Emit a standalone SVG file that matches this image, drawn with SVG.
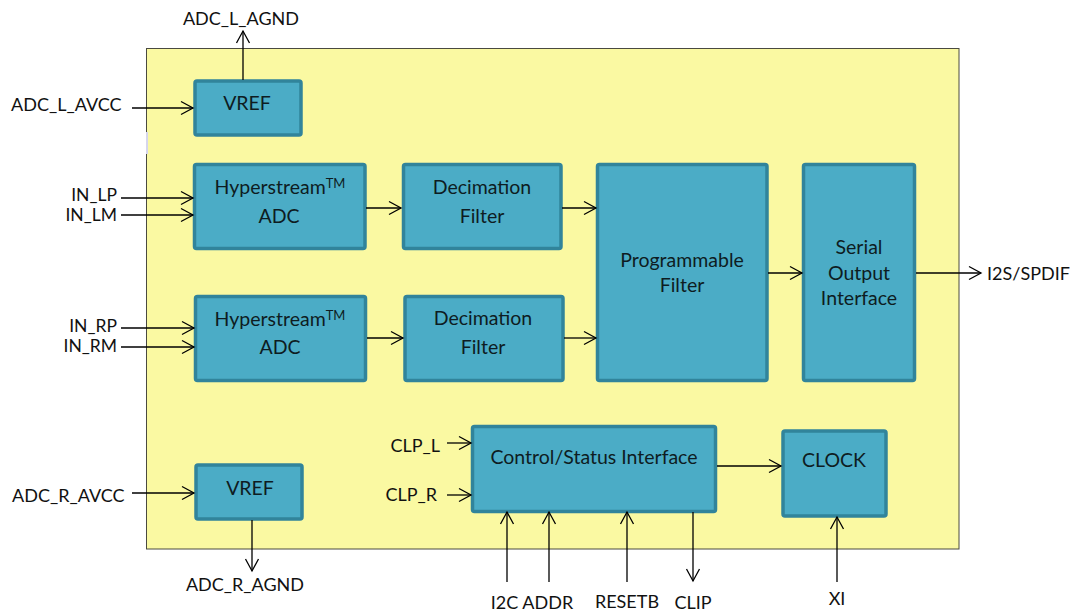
<svg xmlns="http://www.w3.org/2000/svg" width="1072" height="612" viewBox="0 0 1072 612">
<defs>
<style>
text{font-family:Lato,"Open Sans","Liberation Sans",sans-serif;font-size:18px;fill:#111}
.b{font-size:19.5px;fill:#0e1c22}
.c{text-anchor:middle}
.e{text-anchor:end}
.box{fill:#4BACC6;stroke:#31849B;stroke-width:3.5}
.w{stroke:#000;stroke-width:1.3;fill:none}
.tm{font-size:13px}
.s{font-size:17.5px}
</style>
<marker id="a" markerUnits="userSpaceOnUse" markerWidth="14" markerHeight="14" refX="12" refY="6.5" orient="auto" overflow="visible">
<path d="M0,0 L12,6.5 L0,13" fill="none" stroke="#000" stroke-width="1.3"/>
</marker>
</defs>
<rect width="1072" height="612" fill="#fff"/>
<g id="chip">
<rect x="146.5" y="48.5" width="812.5" height="500.5" fill="#FAF9A2" stroke="#4a4a40" stroke-width="1"/>
<rect x="146" y="132" width="2" height="22" fill="#d6d6ec"/>
</g>
<g id="vref-l"><rect class="box" x="195" y="81" width="106" height="54" rx="2"/><text class="c b" x="247" y="110">VREF</text></g>
<g id="adc-l"><rect class="box" x="194.5" y="164.5" width="170.5" height="84" rx="2"/><text class="c b" x="280" y="194">Hyperstream<tspan class="tm" dy="-6">TM</tspan></text><text class="c b" x="279" y="223">ADC</text></g>
<g id="dec-l"><rect class="box" x="403.5" y="164.5" width="157.5" height="84" rx="2"/><text class="c b" x="482" y="194">Decimation</text><text class="c b" x="482" y="223">Filter</text></g>
<g id="adc-r"><rect class="box" x="195.5" y="296.5" width="170" height="84" rx="2"/><text class="c b" x="280" y="326">Hyperstream<tspan class="tm" dy="-6">TM</tspan></text><text class="c b" x="280" y="354">ADC</text></g>
<g id="dec-r"><rect class="box" x="405" y="296.5" width="158" height="84" rx="2"/><text class="c b" x="483" y="325">Decimation</text><text class="c b" x="483" y="354">Filter</text></g>
<g id="prog"><rect class="box" x="597.5" y="164.5" width="169.5" height="216" rx="2"/><text class="c b" x="682" y="267">Programmable</text><text class="c b" x="682" y="292">Filter</text></g>
<g id="serial"><rect class="box" x="803.5" y="164.5" width="111" height="216" rx="2"/><text class="c b" x="859" y="254">Serial</text><text class="c b" x="859" y="280">Output</text><text class="c b" x="859" y="305">Interface</text></g>
<g id="ctrl"><rect class="box" x="472.5" y="426.5" width="243" height="85" rx="2"/><text class="c b" x="594" y="464">Control/Status Interface</text></g>
<g id="clock"><rect class="box" x="783" y="431" width="103" height="85" rx="2"/><text class="c b" x="834" y="467">CLOCK</text></g>
<g id="vref-r"><rect class="box" x="196" y="465" width="106" height="54" rx="2"/><text class="c b" x="250" y="495">VREF</text></g>
<g id="labels">
<text class="c" x="241" y="25">ADC_L_AGND</text>
<text x="11" y="111">ADC_L_AVCC</text>
<text class="e s" x="117" y="201">IN_LP</text>
<text class="e s" x="117" y="221">IN_LM</text>
<text class="e s" x="117" y="332">IN_RP</text>
<text class="e s" x="117" y="352">IN_RM</text>
<text x="12" y="502">ADC_R_AVCC</text>
<text class="c" x="245" y="591">ADC_R_AGND</text>
<text class="e" x="440" y="452">CLP_L</text>
<text class="e" x="437" y="501">CLP_R</text>
<text class="c" x="532" y="609">I2C ADDR</text>
<text class="c" x="627" y="608">RESETB</text>
<text class="c" x="693" y="609">CLIP</text>
<text class="c" x="837" y="605">XI</text>
<text x="987" y="280">I2S/SPDIF</text>
</g>
<g id="connectors" class="w" marker-end="url(#a)">
<line x1="243" y1="80" x2="243" y2="31"/>
<line x1="132" y1="108" x2="193" y2="108"/>
<line x1="121" y1="198" x2="193" y2="198"/>
<line x1="121" y1="215" x2="193" y2="215"/>
<line x1="121" y1="328" x2="194" y2="328"/>
<line x1="121" y1="347" x2="194" y2="347"/>
<line x1="366" y1="208" x2="401" y2="208"/>
<line x1="562" y1="208" x2="596" y2="208"/>
<line x1="367" y1="338" x2="403" y2="338"/>
<line x1="564" y1="338" x2="596" y2="338"/>
<line x1="768" y1="273" x2="802" y2="273"/>
<line x1="916" y1="273" x2="981" y2="273"/>
<line x1="132" y1="493" x2="194" y2="493"/>
<line x1="252" y1="520" x2="252" y2="571"/>
<line x1="447" y1="443" x2="471" y2="443"/>
<line x1="447" y1="495" x2="471" y2="495"/>
<line x1="507" y1="582" x2="507" y2="512"/>
<line x1="549" y1="582" x2="549" y2="512"/>
<line x1="627" y1="582" x2="627" y2="512"/>
<line x1="693" y1="512" x2="693" y2="581"/>
<line x1="717" y1="466" x2="781" y2="466"/>
<line x1="837" y1="582" x2="837" y2="517"/>
</g>
</svg>
